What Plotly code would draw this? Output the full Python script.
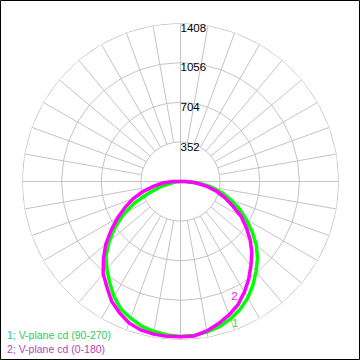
import plotly.graph_objects as go

# ---- data ----
ring_values = [352, 704, 1056, 1408]
ring_labels = ["352", "704", "1056", "1408"]

gamma = [-95, -90, -85, -80, -75, -70, -65, -60, -55, -50, -45, -40, -35, -30, -25,
         -20, -15, -10, -5, 0, 5, 10, 15, 20, 25, 30, 35, 40, 45, 50, 55, 60, 65,
         70, 75, 80, 85, 90, 95]

# curve 1: V-plane cd (90-270)
cd_90_270 = [0, 0, 36, 89, 187, 298, 449, 586, 711, 826, 937, 1017, 1097, 1181, 1251,
             1292, 1331, 1353, 1368, 1377, 1374, 1357, 1335, 1300, 1253, 1195, 1122,
             1044, 968, 879, 777, 675, 577, 475, 382, 275, 160, 53, 0]

# curve 2: V-plane cd (0-180)
cd_0_180 = [0, 71, 160, 240, 346, 449, 542, 644, 751, 866, 968, 1069, 1141, 1226, 1285,
            1337, 1365, 1377, 1381, 1380, 1377, 1348, 1306, 1261, 1208, 1135, 1057,
            973, 897, 808, 715, 622, 511, 418, 329, 231, 133, 44, 0]

legend_1 = "1; V-plane cd (90-270)"
legend_2 = "2; V-plane cd (0-180)"

# ---- layout geometry ----
W = H = 360
L, R, T, B = 22, 21, 23, 20
PW, PH = W - L - R, H - T - B
RMAX = 1408

def px(x):
    return (x - L) / PW

def py(y):
    return 1 - (y - T) / PH

GRID = "#c3c3c3"
GREEN = "#00ff00"
MAGENTA = "#ff00ff"
FONT = "Liberation Sans"
FS = 10.5

fig = go.Figure()

# grid rings (polygonal, vertices every 10 deg)
ring_r, ring_t = [], []
for v in ring_values:
    for a in range(0, 361, 10):
        ring_r.append(v)
        ring_t.append(a)
    ring_r.append(None)
    ring_t.append(None)
fig.add_trace(go.Scatterpolar(r=ring_r, theta=ring_t, mode="lines",
                              line=dict(color=GRID, width=1), hoverinfo="skip",
                              connectgaps=False))

# spokes
sp_r, sp_t = [], []
for a in range(0, 360, 10):
    r0 = 0 if a % 90 == 0 else ring_values[0]
    sp_r += [r0, RMAX, None]
    sp_t += [a, a, None]
fig.add_trace(go.Scatterpolar(r=sp_r, theta=sp_t, mode="lines",
                              line=dict(color=GRID, width=1), hoverinfo="skip",
                              connectgaps=False))

# curves
fig.add_trace(go.Scatterpolar(r=cd_90_270, theta=gamma, mode="lines",
                              line=dict(color=GREEN, width=3.5)))
fig.add_trace(go.Scatterpolar(r=cd_0_180, theta=gamma, mode="lines",
                              line=dict(color=MAGENTA, width=3.5)))

# ring labels
fig.add_trace(go.Scatterpolar(r=ring_values, theta=[180] * len(ring_values),
                              mode="text", text=ring_labels,
                              textposition="bottom right",
                              textfont=dict(family=FONT, size=FS + 1, color="black"),
                              hoverinfo="skip"))

# curve number labels
fig.add_trace(go.Scatterpolar(r=[1357], theta=[21], mode="text", text=["1"],
                              textposition="middle center",
                              textfont=dict(family=FONT, size=FS + 1, color="#33dd33"),
                              hoverinfo="skip"))
fig.add_trace(go.Scatterpolar(r=[1135], theta=[25], mode="text", text=["2"],
                              textposition="middle center",
                              textfont=dict(family=FONT, size=FS + 1, color="#ee22ee"),
                              hoverinfo="skip"))

fig.update_layout(
    width=W, height=H,
    margin=dict(l=L, r=R, t=T, b=B, pad=0),
    paper_bgcolor="white", plot_bgcolor="white",
    showlegend=False, hovermode=False,
    polar=dict(
        bgcolor="white",
        domain=dict(x=[0, 1], y=[0, 1]),
        radialaxis=dict(range=[0, RMAX], showgrid=False, showticklabels=False,
                        showline=False, ticks=""),
        angularaxis=dict(rotation=270, direction="counterclockwise",
                         showgrid=False, showticklabels=False, showline=False,
                         ticks=""),
    ),
    annotations=[
        dict(xref="paper", yref="paper", x=px(5), y=py(335), xanchor="left",
             yanchor="middle", text=legend_1, showarrow=False,
             font=dict(family=FONT, size=FS, color="#2ecc5a")),
        dict(xref="paper", yref="paper", x=px(5), y=py(349), xanchor="left",
             yanchor="middle", text=legend_2, showarrow=False,
             font=dict(family=FONT, size=FS, color="#bb40bb")),
    ],
    shapes=[
        dict(type="rect", xref="paper", yref="paper",
             x0=px(0.5), x1=px(359.5), y0=py(359.5), y1=py(0.5),
             line=dict(color="black", width=1), fillcolor="rgba(0,0,0,0)"),
    ],
)

fig.write_html(
    "out.html",
    config={"displayModeBar": False, "staticPlot": True},
    post_script="document.body.style.margin='0';document.body.style.overflow='hidden';",
)
